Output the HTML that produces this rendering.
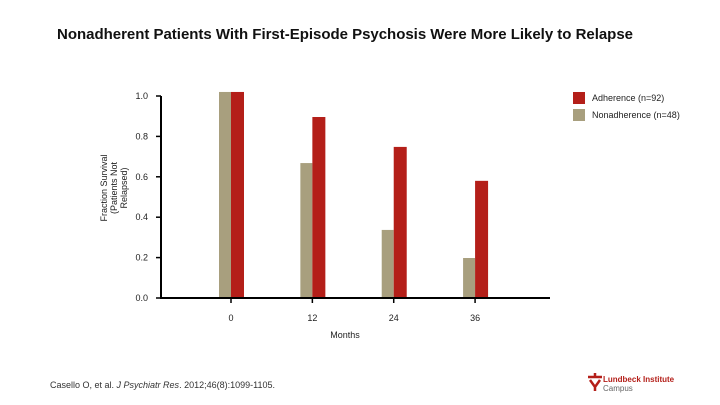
<!DOCTYPE html>
<html><head><meta charset="utf-8"><style>
body{margin:0;background:#fff;font-family:"Liberation Sans",sans-serif}
#w{position:relative;width:720px;height:405px;overflow:hidden}
</style></head><body>
<div id="w">
<svg id="c" width="720" height="405" font-family="Liberation Sans, sans-serif">
<text x="345" y="39" text-anchor="middle" font-size="15" font-weight="bold" fill="#111" textLength="576">Nonadherent Patients With First-Episode Psychosis Were More Likely to Relapse</text>
<rect x="573" y="92" width="12" height="12" fill="#b41f19"/>
<text x="592" y="101" font-size="9" fill="#222">Adherence (n=92)</text>
<rect x="573" y="109" width="12" height="12" fill="#a89f7e"/>
<text x="592" y="118" font-size="9" fill="#222">Nonadherence (n=48)</text>
<text transform="translate(107,188) rotate(-90)" text-anchor="middle" font-size="9" fill="#222"><tspan x="0" dy="0">Fraction Survival</tspan><tspan x="0" dy="10">(Patients Not</tspan><tspan x="0" dy="10">Relapsed)</tspan></text>
<text x="345" y="338" text-anchor="middle" font-size="9" fill="#222">Months</text>
<text x="50" y="388" font-size="9" fill="#333">Casello O, et al. <tspan font-style="italic">J Psychiatr Res</tspan>. 2012;46(8):1099-1105.</text>
<path d="M588 377 h14 M595 373 v4 M590 380 l5 7 l5 -7 M595 387 v4" stroke="#b41f19" stroke-width="2.5" fill="none"/>
<text x="603" y="382" font-size="8" font-weight="bold" fill="#b41f19">Lundbeck Institute</text>
<text x="603" y="391" font-size="8" fill="#666">Campus</text>
<g id="g"></g>
</svg>
</div>
<script>
const months=[0,12,24,36];
const adherence=[1.02,0.896,0.748,0.58];
const nonadherence=[1.02,0.668,0.337,0.198];
const yTicks=[0,0.2,0.4,0.6,0.8,1.0];
const yTickLabels=["0.0","0.2","0.4","0.6","0.8","1.0"];
const NS="http://www.w3.org/2000/svg";
const g=document.getElementById('g');
const x=m=>231+m*6.78;
const y=v=>298-v*202;
function mk(t,a){const e=document.createElementNS(NS,t);for(const k in a)e.setAttribute(k,a[k]);g.appendChild(e);return e;}
months.forEach((m,i)=>{
 let b=mk('rect',{x:x(m)-12,y:y(nonadherence[i]),width:12,height:y(0)-y(nonadherence[i]),fill:'#a89f7e'});
 
 
 let r=mk('rect',{x:x(m),y:y(adherence[i]),width:13,height:y(0)-y(adherence[i]),fill:'#b41f19'});
 
 
 let t=mk('line',{x1:x(m),x2:x(m),y1:y(0),y2:y(0)+5,stroke:'#000','stroke-width':1.5});
 
 
 let l=mk('text',{x:x(m),y:321,'text-anchor':'middle','font-size':9,fill:'#222'});
 l.textContent=m;
 
 
});
yTicks.forEach((v,i)=>{
 let t=mk('line',{x1:156,x2:161,y1:y(v),y2:y(v),stroke:'#000','stroke-width':1.5});
 
 
 let l=mk('text',{x:148,y:y(v)+3,'text-anchor':'end','font-size':9,fill:'#222'});
 l.textContent=yTickLabels[i];
 
 
});
let ax=mk('path',{d:`M161 ${y(1.0)} V${y(0)} H550`,stroke:'#000','stroke-width':2,fill:'none'});


</script>
</body></html>
